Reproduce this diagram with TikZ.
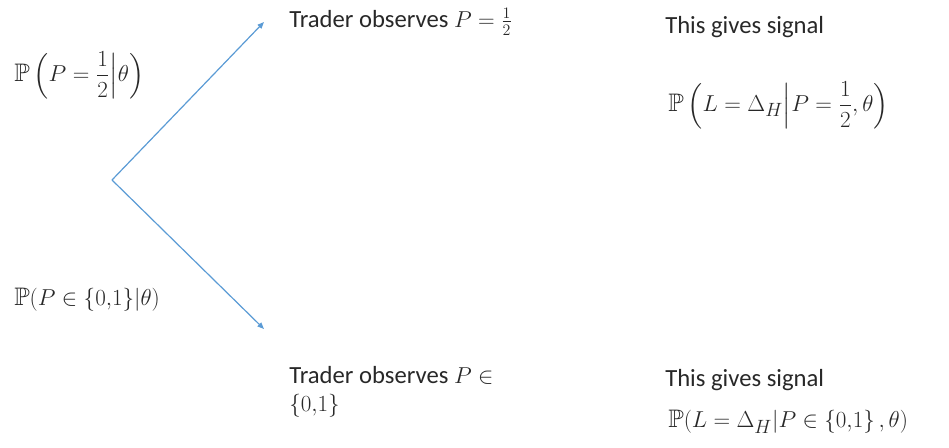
\documentclass[tikz,border=0pt]{standalone}
\usepackage{amsmath,amssymb}
\usepackage{fontspec}
\setmainfont{Carlito}
\usetikzlibrary{arrows.meta}
\definecolor{arrowblue}{RGB}{91,155,213}
\definecolor{txt}{RGB}{40,40,40}
\begin{document}
\begin{tikzpicture}[x=0.75pt,y=-0.75pt,
  lbl/.style={anchor=west,inner sep=0pt,font=\fontsize{18.5}{21}\selectfont,text=txt},
  mth/.style={anchor=west,inner sep=0pt,font=\fontsize{19}{22}\selectfont,text=txt},
  branch/.style={draw=arrowblue,line width=0.9pt,-{Triangle[length=5pt,width=4pt]}}]
\useasboundingbox (0,0) rectangle (949,448);
\coordinate (root) at (112,180);
\coordinate (up) at (264,22);
\coordinate (down) at (264,329);
\draw[branch] (root) -- (up);
\draw[branch] (root) -- (down);
\node[mth] (pu) at (14,75) {$\mathbb{P}\left(P=\dfrac{1}{2}\middle|\theta\right)$};
\node[mth] (pd) at (14,300) {$\mathbb{P}(P\in\{0{,}1\}|\theta)$};
\node[lbl] (tu) at (289,22) {Trader observes $P=\frac{1}{2}$};
\node[lbl,align=left,anchor=north west] (td) at (289,366) {Trader observes $P\in$\\$\{0{,}1\}$};
\node[lbl] (gu) at (665,27) {This gives signal};
\node[mth] (su) at (668,105) {$\mathbb{P}\left(L=\Delta_H\middle|P=\dfrac{1}{2},\theta\right)$};
\node[lbl] (gd) at (665,380) {This gives signal};
\node[mth] (sd) at (668,422) {$\mathbb{P}(L=\Delta_H|P\in\{0{,}1\}\,,\theta)$};
\end{tikzpicture}
\end{document}
